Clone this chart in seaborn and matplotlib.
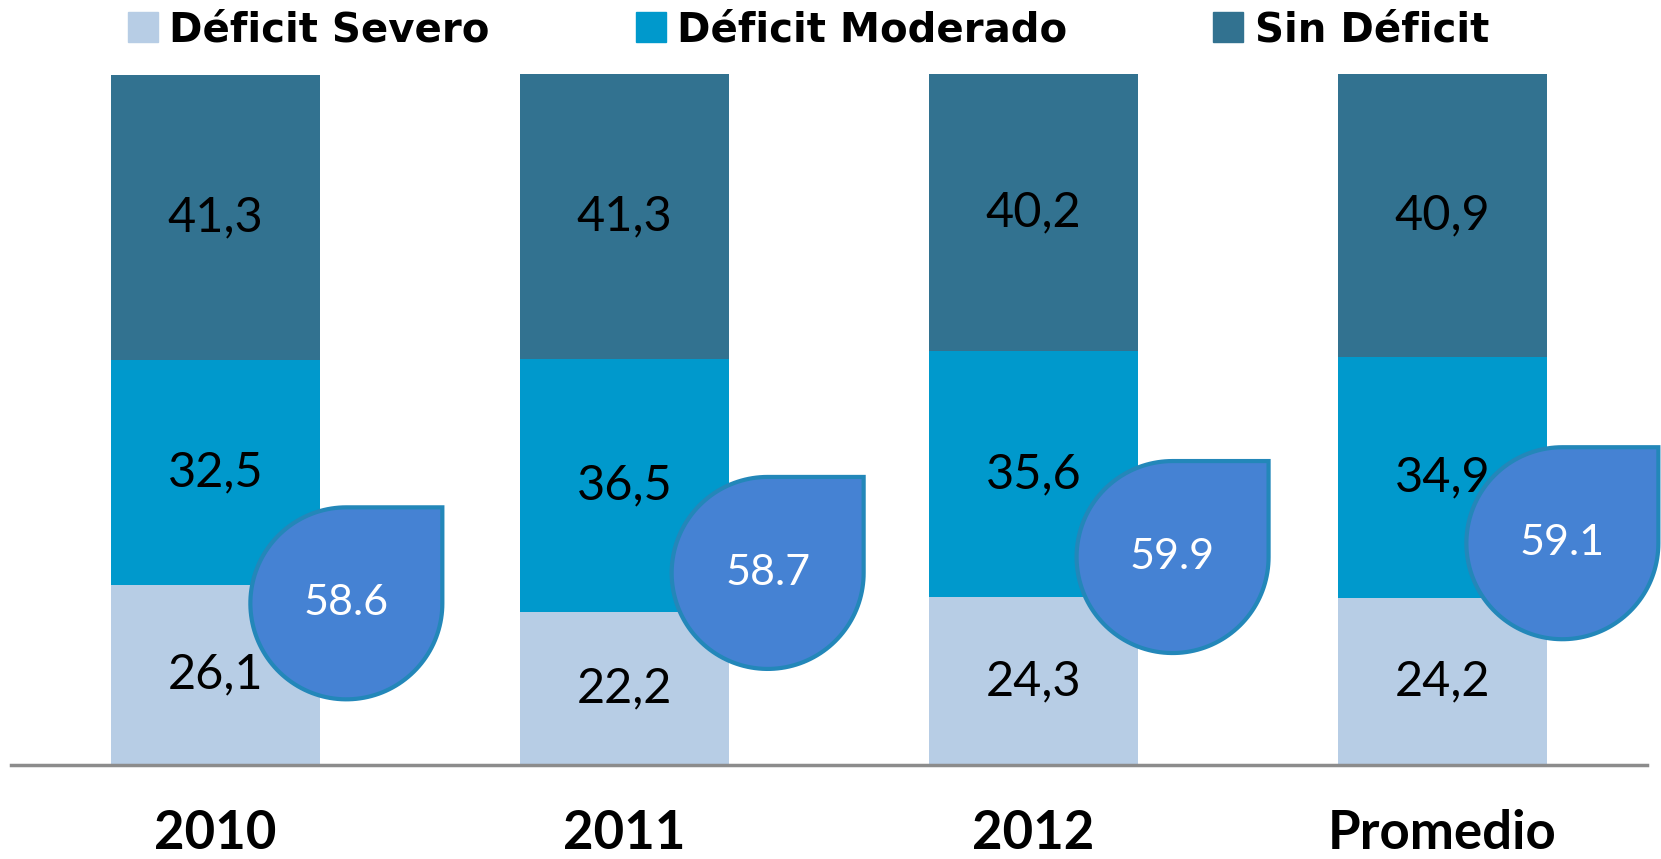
import numpy as np
import matplotlib
matplotlib.use("Agg")
import matplotlib.pyplot as plt
import matplotlib.transforms as mtransforms
from matplotlib.path import Path
from matplotlib.patches import PathPatch
from matplotlib.lines import Line2D
import seaborn as sns

categories = ["2010", "2011", "2012", "Promedio"]
severo = [26.1, 22.2, 24.3, 24.2]
moderado = [32.5, 36.5, 35.6, 34.9]
sin_deficit = [41.3, 41.3, 40.2, 40.9]
drop_values = [58.6, 58.7, 59.9, 59.1]
series_names = ["Déficit Severo", "Déficit Moderado", "Sin Déficit"]

# where the drops sit: x offset from bar centre, y in axis units
drop_dx = [0.32, 0.35, 0.34, 0.293]
drop_y = [23.4, 27.8, 30.1, 32.1]

colors = ["#B7CDE5", "#0099CC", "#327290"]
drop_face = "#4582D3"
drop_edge = "#2387B9"

sns.set_style("white")
plt.rcParams["font.family"] = ["Lato", "DejaVu Sans"]
plt.rcParams["text.color"] = "black"
plt.rcParams["xtick.color"] = "black"

fig = plt.figure(figsize=(16.61, 8.59), dpi=100)
ax = fig.add_axes([0.0066, 0.1094, 0.985, 0.8044])

# stacked bars
bottom = np.zeros(len(categories))
for vals, col in zip([severo, moderado, sin_deficit], colors):
    sns.barplot(x=categories, y=vals, bottom=bottom.copy(), color=col,
                width=0.513, saturation=1, errorbar=None, linewidth=0,
                ax=ax, zorder=2)
    for i, v in enumerate(vals):
        ax.text(i, bottom[i] + v / 2, f"{v:.1f}".replace(".", ","),
                ha="center", va="center", fontsize=35, color="black", zorder=3)
    bottom += np.array(vals)

# drop shape: circle with square top-right corner
theta = np.linspace(np.pi / 2, 2 * np.pi, 120)
verts = np.column_stack([np.cos(theta), np.sin(theta)])
verts = np.vstack([verts, [[1, 1], [0, 1]]])
drop_path = Path(verts, closed=True)

for i, val in enumerate(drop_values):
    xc, yc = i + drop_dx[i], drop_y[i]
    trans = (mtransforms.Affine2D().scale(0.96) + fig.dpi_scale_trans
             + mtransforms.ScaledTranslation(xc, yc, ax.transData))
    patch = PathPatch(drop_path, facecolor=drop_face, edgecolor=drop_edge,
                      lw=3, transform=trans, zorder=4, clip_on=False)
    ax.add_artist(patch)
    ax.text(xc, yc, f"{val:.1f}", color="white", fontsize=31,
            ha="center", va="center", zorder=5)

ax.set_xlim(-0.5, 3.5)
ax.set_ylim(0, 100)
ax.set_yticks([])
ax.set_xlabel("")
ax.set_ylabel("")
ax.tick_params(axis="x", length=0, pad=32, labelsize=38, labelcolor="black")
for lbl in ax.get_xticklabels():
    lbl.set_fontweight("bold")

sns.despine(ax=ax, left=True)
ax.spines["bottom"].set_color("#8C8C8C")
ax.spines["bottom"].set_linewidth(2.5)

handles = [Line2D([], [], marker="s", ls="", markersize=22,
                  markerfacecolor=c, markeredgecolor=c) for c in colors]
fig.legend(handles, series_names, loc="center",
           bbox_to_anchor=(808 / 1661, 1 - 30 / 859), ncol=3, frameon=False,
           prop={"family": "DejaVu Sans", "weight": "bold", "size": 29},
           handlelength=0.8, handletextpad=0.25, columnspacing=3.6,
           borderpad=0, labelcolor="black")

fig.savefig("out.png", dpi=100)
